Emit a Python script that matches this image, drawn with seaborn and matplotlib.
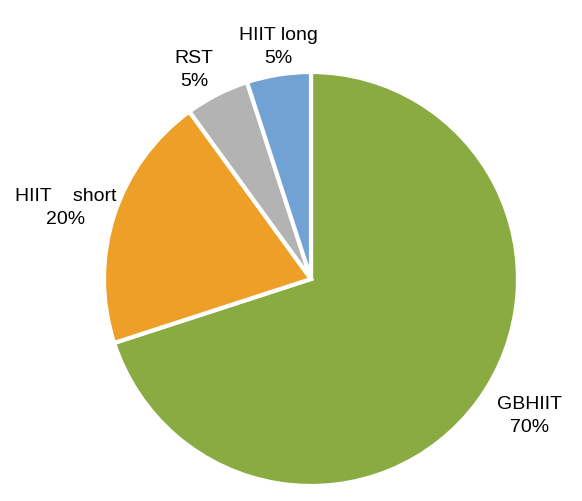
import matplotlib
matplotlib.use("Agg")
import matplotlib.pyplot as plt
import seaborn as sns

categories = ["GBHIIT", "HIIT    short", "RST", "HIIT long"]
values = [70, 20, 5, 5]
pct_labels = ["70%", "20%", "5%", "5%"]
colors = ["#8AAB42", "#EE9F27", "#B3B3B3", "#72A2D3"]

sns.set_theme(style="white")
plt.rcParams['font.family'] = ['Liberation Sans', 'DejaVu Sans']

W, H = 582, 502
fig = plt.figure(figsize=(W / 100, H / 100), dpi=100)
ax = fig.add_axes([0, 0, 1, 1])
ax.set_xlim(0, W)
ax.set_ylim(0, H)
ax.set_aspect('equal')
ax.axis('off')

pal = sns.color_palette(colors)
ax.pie(values, colors=pal, startangle=90, counterclock=False,
       center=(311, H - 280), radius=207,
       wedgeprops=dict(edgecolor='white', linewidth=3))
ax.set_xlim(0, W)
ax.set_ylim(0, H)

label_pos = [(530, 416), (66, 208), (194, 70), (278, 47)]
for cat, pct, (x, y) in zip(categories, pct_labels, label_pos):
    ax.text(x, H - y, f"{cat}\n{pct}", ha='center', va='center',
            fontsize=14, linespacing=1.4, color='black')

fig.savefig("out.png", dpi=100)
